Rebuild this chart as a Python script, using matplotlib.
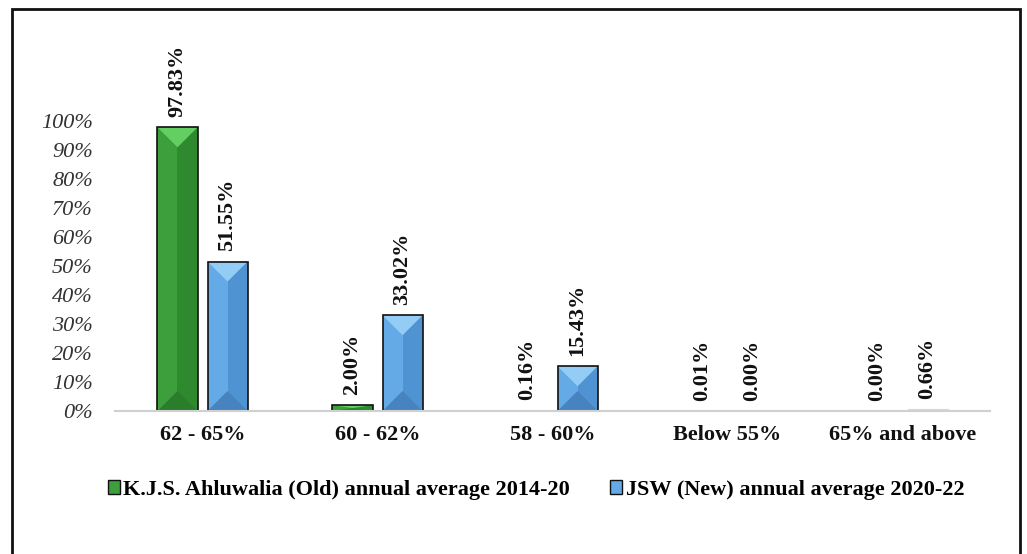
import matplotlib
matplotlib.use('Agg')
import matplotlib.pyplot as plt
from matplotlib.patches import Polygon, Rectangle
import numpy as np

categories = ['62 - 65%', '60 - 62%', '58 - 60%', 'Below 55%', '65% and above']
old_share = [97.83, 2.00, 0.16, 0.01, 0.00]
new_share = [51.55, 33.02, 15.43, 0.00, 0.66]
series_names = ['K.J.S. Ahluwalia (Old) annual average 2014-20',
                'JSW (New) annual average 2020-22']

# colours: base (left half), dark (right half), light (top bevel), bottom bevel
green = dict(base='#3c9f3c', dark='#2f8a2f', light='#63cf63', bot='#2a7d2a')
blue = dict(base='#64aae6', dark='#4f93d3', light='#93cdf6', bot='#4683bf')

plt.rcParams['font.family'] = ['Liberation Serif', 'DejaVu Serif']

fig = plt.figure(figsize=(10.27, 5.54), dpi=100)
ax = fig.add_axes([0.112, 0.2581, 0.852, 0.5235])

x = np.arange(len(categories))
w = 0.229
off = 0.143


def bevel_bars(ax, xs, vals, cols):
    bars = ax.bar(xs, vals, w, color=cols['base'], edgecolor='none', zorder=2)
    for b in bars:
        bx, by, bw, bh = b.get_x(), b.get_y(), b.get_width(), b.get_height()
        if bh <= 0:
            continue
        if bh < 0.01:
            # hairline bars show only as a faint grey line
            b.set_facecolor('#e4e4e4')
            b.set_edgecolor('#d8d8d8')
            b.set_linewidth(0.8)
            continue
        d = min(0.069, bh / 2)
        top = by + bh
        ax.add_patch(Rectangle((bx + bw / 2, by), bw / 2, bh, facecolor=cols['dark'],
                               edgecolor='none', zorder=2.1))
        ax.add_patch(Polygon([(bx, top), (bx + bw, top), (bx + bw / 2, top - d)],
                             closed=True, facecolor=cols['light'], edgecolor='none', zorder=2.2))
        ax.add_patch(Polygon([(bx, by), (bx + bw, by), (bx + bw / 2, by + d)],
                             closed=True, facecolor=cols['bot'], edgecolor='none', zorder=2.2))
        ax.add_patch(Rectangle((bx, by), bw, bh, facecolor='none', edgecolor='#111111',
                               linewidth=1.2, zorder=2.3))
    return bars


old_vals = [v / 100 for v in old_share]
new_vals = [v / 100 for v in new_share]
bevel_bars(ax, x - off, old_vals, green)
bevel_bars(ax, x + off, new_vals, blue)

for xs, vals, labs in [(x - off, old_vals, old_share), (x + off, new_vals, new_share)]:
    for xi, v, lab in zip(xs, vals, labs):
        ax.annotate(f'{lab:.2f}%', (xi, v), xytext=(0, 7.5), textcoords='offset points',
                    rotation=90, ha='center', va='bottom', fontsize=16, fontweight='bold',
                    color='#111111', annotation_clip=False)

ax.set_ylim(0, 1.0)
ax.set_xlim(-0.5, len(categories) - 0.5)
ticks = np.arange(0, 1.01, 0.1)
ax.set_yticks(ticks)
ax.set_yticklabels([f'{int(round(t * 100))}%' for t in ticks],
                   fontstyle='italic', fontsize=16, color='#333333')
ax.set_xticks(x)
ax.set_xticklabels(categories, fontsize=16, fontweight='bold', color='#111111')
ax.tick_params(axis='both', length=0)
ax.tick_params(axis='x', pad=10)
ax.tick_params(axis='y', pad=16)
for s in ['top', 'right', 'left']:
    ax.spines[s].set_visible(False)
ax.spines['bottom'].set_color('#d0d0d0')
ax.spines['bottom'].set_linewidth(1.5)

h1 = Rectangle((0, 0), 1, 1, facecolor=green['base'], edgecolor='#111111', linewidth=1)
h2 = Rectangle((0, 0), 1, 1, facecolor=blue['base'], edgecolor='#111111', linewidth=1)
fig.legend([h1, h2], series_names, loc='center', bbox_to_anchor=(0.522, 0.1155), ncol=2,
           frameon=False, handlelength=0.55, handleheight=0.55, handletextpad=0.15,
           columnspacing=1.8, prop={'size': 16, 'weight': 'bold'})

# outer frame
fig.add_artist(Rectangle((0.0117, -0.05), 0.9815, 1.034, transform=fig.transFigure,
                         facecolor='none', edgecolor='#111111', linewidth=2))

fig.savefig('out.png', dpi=100)
